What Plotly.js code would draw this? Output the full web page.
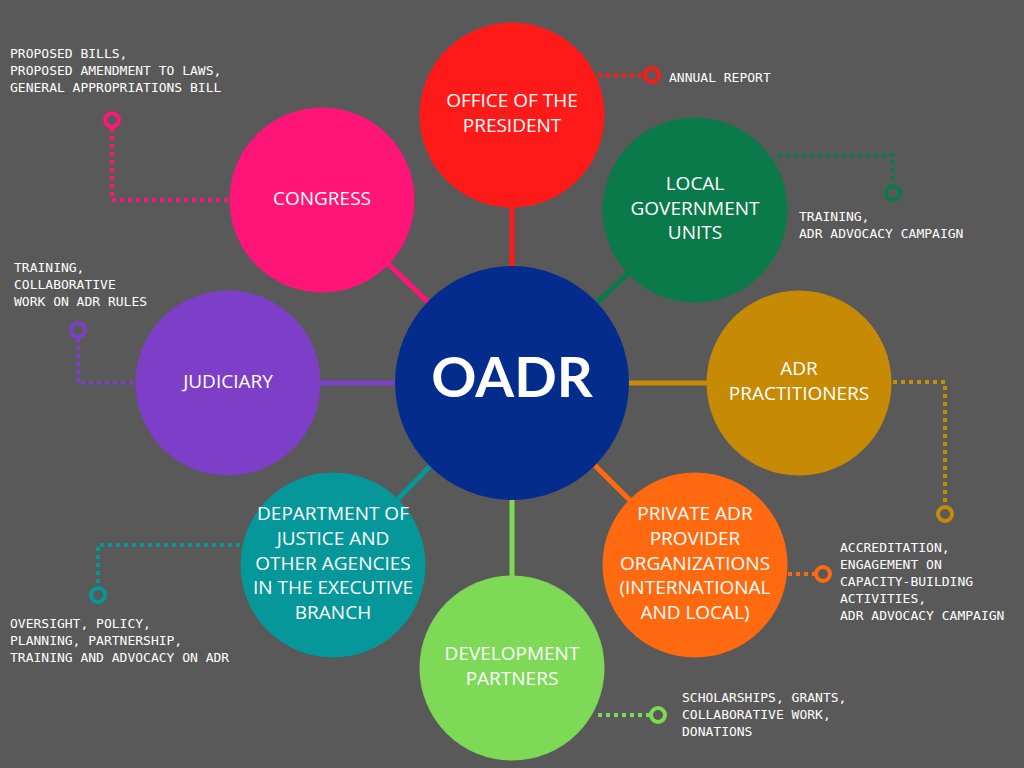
<!DOCTYPE html>
<html>
<head>
<meta charset="utf-8">
<script src="https://cdn.plot.ly/plotly-3.0.1.min.js"></script>
<style>body{margin:0;background:#595959}</style>
</head>
<body>
<div id="graph" style="width:1024px;height:768px"></div>
<script>
// nodes of the diagram
const nodeLabels = ['OFFICE OF THE<br>PRESIDENT', 'LOCAL<br>GOVERNMENT<br>UNITS', 'ADR<br>PRACTITIONERS',
  'PRIVATE ADR<br>PROVIDER<br>ORGANIZATIONS<br>(INTERNATIONAL<br>AND LOCAL)', 'DEVELOPMENT<br>PARTNERS',
  'DEPARTMENT OF<br>JUSTICE AND<br>OTHER AGENCIES<br>IN THE EXECUTIVE<br>BRANCH', 'JUDICIARY', 'CONGRESS'];
const nodeX = [512, 695, 799, 695, 512, 333, 228, 322];
const nodeY = [115, 210, 383, 565, 668, 565, 383, 200];
const nodeColors = ['#ff1a1a', '#0b7a4a', '#c68a04', '#ff6a10', '#7ed957', '#05979a', '#7e3fc8', '#ff1577'];
const centerX = 512, centerY = 383;

// dotted leaders: points of each polyline, last point carries the ring
const leaderX = [[598, 652], [778, 893, 893], [893, 945, 945], [788, 823], [598, 658], [240, 98, 98], [133, 78, 78], [228, 112, 112]];
const leaderY = [[75, 75], [155, 155, 193], [382, 382, 514], [574, 574], [715, 715], [545, 545, 595], [383, 383, 330], [200, 200, 120]];
const noteText = ['ANNUAL REPORT', 'TRAINING,<br>ADR ADVOCACY CAMPAIGN',
  'ACCREDITATION,<br>ENGAGEMENT ON<br>CAPACITY-BUILDING<br>ACTIVITIES,<br>ADR ADVOCACY CAMPAIGN', '',
  'SCHOLARSHIPS, GRANTS,<br>COLLABORATIVE WORK,<br>DONATIONS',
  'OVERSIGHT, POLICY,<br>PLANNING, PARTNERSHIP,<br>TRAINING AND ADVOCACY ON ADR',
  'TRAINING,<br>COLLABORATIVE<br>WORK ON ADR RULES',
  'PROPOSED BILLS,<br>PROPOSED AMENDMENT TO LAWS,<br>GENERAL APPROPRIATIONS BILL'];
const noteX = [667, 797, 838, 0, 680, 8, 12, 8];
const noteY = [77, 225, 581, 0, 714, 640, 284, 70];

const traces = [];
nodeX.forEach((x, i) => {
  traces.push({x: [centerX, x], y: [centerY, nodeY[i]], mode: 'lines',
    line: {color: nodeColors[i], width: 5}, hoverinfo: 'skip'});
  traces.push({x: leaderX[i], y: leaderY[i], mode: 'lines',
    line: {color: nodeColors[i], width: 4, dash: 'dot'}, hoverinfo: 'skip'});
  const n = leaderX[i].length - 1;
  traces.push({x: [leaderX[i][n]], y: [leaderY[i][n]], mode: 'markers',
    marker: {size: 14, color: '#595959', line: {color: nodeColors[i], width: 4}}, hoverinfo: 'skip'});
});
traces.push({x: nodeX, y: nodeY, mode: 'markers+text', text: nodeLabels,
  textfont: {family: 'Open Sans', size: 19, color: 'white'},
  marker: {size: 185, color: nodeColors, line: {width: 0}}, hoverinfo: 'skip'});
traces.push({x: [centerX], y: [centerY], mode: 'markers+text', text: ['<b>OADR</b>'],
  textfont: {family: 'Lato', size: 56, color: 'white'},
  marker: {size: 234, color: '#042c8c', line: {width: 0}}, hoverinfo: 'skip'});

const annotations = noteText.filter(t => t).map(t => {
  const i = noteText.indexOf(t);
  return {x: noteX[i], y: noteY[i], text: t, showarrow: false, xanchor: 'left', yanchor: 'middle', align: 'left',
    font: {family: 'DejaVu Sans Mono', size: 13, color: 'white'}};
});

const layout = {
  width: 1024, height: 768, showlegend: false,
  margin: {l: 0, r: 0, t: 0, b: 0},
  paper_bgcolor: '#595959', plot_bgcolor: '#595959',
  xaxis: {range: [0, 1024], visible: false, fixedrange: true},
  yaxis: {range: [768, 0], visible: false, fixedrange: true},
  annotations: annotations
};
Plotly.newPlot('graph', traces, layout, {displayModeBar: false, staticPlot: true});
</script>
</body>
</html>
